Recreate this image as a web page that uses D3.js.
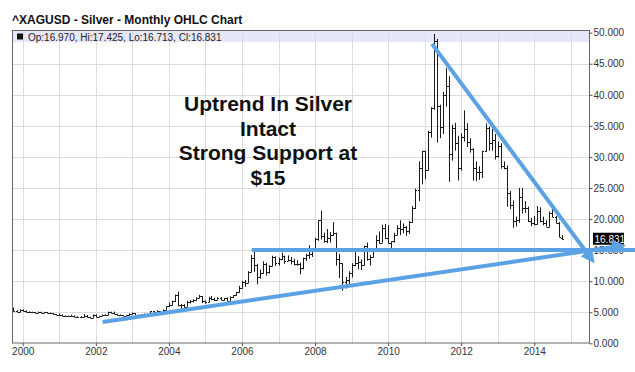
<!DOCTYPE html>
<html><head><meta charset="utf-8">
<script src="https://cdn.jsdelivr.net/npm/d3@7"></script>
<style>html,body{margin:0;padding:0;background:#fff;}svg{display:block;}</style>
</head><body>
<svg id="chart" width="635" height="372"></svg>
<script>
// ---- data (monthly OHLC, Oct 1999 .. Oct 2014) ----
const firstMonth = new Date(1999, 9, 1);
const opens = [
 5.45,5.15,5.10,
 5.35,5.25,5.05,5.00,5.00,4.95,5.05,4.95,5.00,4.90,4.80,4.70,
 4.60,4.60,4.45,4.35,4.40,4.45,4.30,4.20,4.25,4.45,4.20,4.15,
 4.60,4.25,4.40,4.60,4.55,5.00,4.90,4.75,4.60,4.55,4.45,4.50,
 4.70,4.85,4.55,4.45,4.55,4.60,4.55,5.15,5.05,5.15,5.05,5.35,
 5.95,6.20,6.75,7.75,6.15,6.10,5.90,6.60,6.80,6.90,7.30,7.55,
 6.80,6.70,7.35,7.10,6.95,7.35,7.05,7.25,6.85,7.50,7.70,8.25,
 8.85,9.90,9.75,11.50,13.70,12.65,10.70,11.30,12.80,11.50,12.50,13.95,
 12.90,13.55,14.10,13.30,13.40,13.25,12.70,12.80,12.20,13.75,14.20,14.40,
 14.80,16.80,19.80,17.20,16.40,17.00,17.50,17.70,13.50,12.90,9.80,10.20,
 11.30,12.60,13.00,13.10,12.60,15.60,13.60,13.90,14.90,16.70,16.20,18.50,
 16.90,16.20,16.40,17.50,18.60,18.40,18.70,18.00,19.60,21.80,24.70,28.30,
 30.90,27.90,34.00,37.90,48.60,38.20,34.90,40.00,41.50,30.40,34.70,32.20,
 28.20,33.20,34.50,32.40,31.30,28.30,27.50,27.60,30.90,34.70,32.30,32.70,
 30.20,31.70,28.50,28.30,24.20,22.30,19.70,19.80,23.60,21.70,21.80,19.70,
 19.40,19.20,21.30,19.70,19.30,18.80,21.00,20.40,19.40,16.970];
const highs = [
 5.75,5.30,5.45,
 5.45,5.30,5.15,5.10,5.05,5.10,5.10,5.05,5.05,4.95,4.85,4.70,
 4.80,4.65,4.50,4.45,4.60,4.50,4.35,4.35,4.70,4.55,4.25,4.65,
 4.65,4.45,4.65,4.70,5.10,5.10,5.10,4.75,4.65,4.55,4.55,4.80,
 4.95,4.85,4.65,4.70,4.80,4.65,5.20,5.20,5.30,5.15,5.45,5.95,
 6.55,6.85,7.85,8.30,6.35,6.30,6.85,6.95,7.10,7.40,7.80,7.60,
 6.90,7.45,7.60,7.35,7.40,7.45,7.30,7.40,7.55,7.75,8.30,9.25,
 10.05,10.20,11.60,14.20,15.20,12.80,11.85,13.20,12.95,12.60,14.10,14.00,
 13.80,14.60,14.10,14.15,13.90,13.60,13.40,13.00,13.80,14.40,15.80,15.00,
 17.00,19.80,21.35,17.80,18.40,17.90,19.50,17.80,14.40,12.90,10.70,11.60,
 12.90,14.70,14.05,13.50,15.70,16.20,14.20,15.00,17.40,18.00,19.10,19.20,
 19.00,16.40,17.80,19.00,19.80,19.30,18.90,19.70,22.10,24.90,29.30,31.00,
 31.00,34.20,38.00,49.80,49.00,38.40,40.50,44.30,43.00,35.20,35.50,33.40,
 33.80,37.50,35.40,33.00,31.40,29.30,28.50,31.00,35.40,34.90,34.50,33.70,
 32.50,32.20,29.30,28.60,24.50,23.00,20.40,25.00,25.00,22.90,22.00,20.20,
 20.50,22.10,21.90,20.40,19.80,21.20,21.60,20.50,19.50,17.425];
const lows = [
 5.10,5.05,5.05,
 5.10,5.00,4.95,4.95,4.85,4.90,4.90,4.85,4.85,4.75,4.60,4.55,
 4.50,4.40,4.30,4.30,4.35,4.25,4.15,4.15,4.20,4.15,4.05,4.10,
 4.20,4.25,4.40,4.50,4.55,4.85,4.70,4.50,4.45,4.40,4.40,4.50,
 4.65,4.50,4.40,4.40,4.50,4.45,4.50,4.85,4.95,4.85,4.95,5.30,
 5.85,6.10,6.65,5.95,5.50,5.75,5.85,6.40,6.60,6.85,7.25,6.45,
 6.35,6.60,6.95,6.85,6.95,6.95,6.85,6.80,6.80,7.30,7.60,8.10,
 8.80,9.10,9.70,11.40,11.50,9.50,10.40,11.20,10.90,11.20,12.40,12.45,
 12.50,13.40,12.80,13.25,12.70,12.55,12.50,11.10,11.90,13.25,13.60,13.90,
 14.70,16.50,16.70,16.20,16.10,16.20,17.30,12.50,10.50,8.45,8.80,9.50,
 10.60,12.40,11.90,11.80,12.50,13.30,12.50,13.80,14.70,16.10,16.20,16.80,
 16.10,14.70,16.20,17.40,17.40,17.70,17.30,17.60,19.40,21.60,22.90,25.60,
 26.40,27.80,33.10,37.60,32.30,33.00,33.70,38.10,26.00,29.40,31.00,26.20,
 27.80,32.50,31.60,30.70,26.20,26.10,26.30,26.60,30.80,31.00,31.00,29.60,
 29.90,28.10,28.00,22.00,21.60,18.60,18.80,19.40,20.90,21.00,19.50,18.85,
 19.00,19.10,19.50,19.00,18.80,18.70,20.30,19.30,17.10,16.713];
const closes = [
 5.15,5.10,5.35,
 5.25,5.05,5.00,5.00,4.95,5.05,4.95,5.00,4.90,4.80,4.70,4.60,
 4.60,4.45,4.35,4.40,4.45,4.30,4.20,4.25,4.45,4.20,4.15,4.60,
 4.25,4.40,4.60,4.55,5.00,4.90,4.75,4.60,4.55,4.45,4.50,4.70,
 4.85,4.55,4.45,4.55,4.60,4.55,5.15,5.05,5.15,5.05,5.35,5.95,
 6.20,6.75,7.75,6.15,6.10,5.90,6.60,6.80,6.90,7.30,7.55,6.80,
 6.70,7.35,7.10,6.95,7.35,7.05,7.25,6.85,7.50,7.70,8.25,8.85,
 9.90,9.75,11.50,13.70,12.65,10.70,11.30,12.80,11.50,12.50,13.95,12.90,
 13.55,14.10,13.30,13.40,13.25,12.70,12.80,12.20,13.75,14.20,14.40,14.80,
 16.80,19.80,17.20,16.40,17.00,17.50,17.70,13.50,12.90,9.80,10.20,11.30,
 12.60,13.00,13.10,12.60,15.60,13.60,13.90,14.90,16.70,16.20,18.50,16.90,
 16.20,16.40,17.50,18.60,18.40,18.70,18.00,19.60,21.80,24.70,28.30,30.90,
 27.90,34.00,37.90,48.60,38.20,34.90,40.00,41.50,30.40,34.70,32.20,28.20,
 33.20,34.50,32.40,31.30,28.30,27.50,27.60,30.90,34.70,32.30,32.70,30.20,
 31.70,28.50,28.30,24.20,22.30,19.70,19.80,23.60,21.70,21.80,19.70,19.40,
 19.20,21.30,19.70,19.30,18.80,21.00,20.40,19.40,17.10,16.831];

const priceTicks = [0,5,10,15,20,25,30,35,40,45,50];
const yearLabels = [2000,2002,2004,2006,2008,2010,2012,2014];
const gridYears = [2000,2001,2002,2003,2004,2005,2006,2007,2008,2009,2010,2011,2012,2013,2014,2015];
const titleText = "^XAGUSD - Silver - Monthly OHLC Chart";
const legendText = "Op:16.970, Hi:17.425, Lo:16.713, Cl:16.831";
const lastPrice = 16.831;
const noteLines = ["Uptrend In Silver","Intact","Strong Support at","$15"];
// trend lines drawn on the chart: [date, price]
const downTrend = [[new Date(2011,2,15), 48.2],[new Date(2015,6,25), 13.6]];
const supportLine = [[new Date(2006,3,8), 15.0],[new Date(2016,10,1), 15.0]];
const upTrend = [[new Date(2002,2,10), 3.43],[new Date(2016,4,10), 15.66]];

// ---- layout ----
const L = 12, R = 590, T = 30, B = 343.5;
const svg = d3.select("#chart");
const x = d3.scaleTime().domain([new Date(2000,0,1), new Date(2014,0,1)]).range([22.7, 534.3]);
const y = d3.scaleLinear().domain([0,50]).range([343.3, 32.7]);
const months = d3.range(opens.length).map(i => d3.timeMonth.offset(firstMonth, i));
const data = months.map((d,i) => ({date:d, o:opens[i], h:highs[i], l:lows[i], c:closes[i]}));
const font = "'Liberation Sans', Arial, sans-serif";

svg.append("text").attr("x", 12).attr("y", 24).attr("font-family", font)
  .attr("font-weight", "bold").attr("font-size", 12).attr("fill", "#111").text(titleText);

const defs = svg.append("defs");
defs.append("clipPath").attr("id","plotclip").append("rect")
  .attr("x", L).attr("y", T).attr("width", R-L).attr("height", B-T);

// legend band
svg.append("rect").attr("x", L).attr("y", T).attr("width", R-L).attr("height", 12).attr("fill", "#e6e8fa");

// grid
const grid = svg.append("g").attr("stroke", "#dcdcdc").attr("stroke-width", 1);
grid.selectAll("line.v").data(gridYears).join("line")
  .attr("x1", d => Math.round(x(new Date(d,0,1))) + 0.5).attr("x2", d => Math.round(x(new Date(d,0,1))) + 0.5)
  .attr("y1", T).attr("y2", B);
grid.selectAll("line.h").data(priceTicks.filter(v => v > 0 && v < 50)).join("line")
  .attr("x1", L).attr("x2", R).attr("y1", d => Math.round(y(d)) + 0.5).attr("y2", d => Math.round(y(d)) + 0.5);

// legend content
svg.append("rect").attr("x", 17).attr("y", 33.5).attr("width", 6).attr("height", 6).attr("fill", "#111");
svg.append("text").attr("x", 28).attr("y", 40.5).attr("font-family", font).attr("font-size", 10)
  .attr("fill", "#222").text(legendText);

// OHLC bars
const bars = svg.append("g").attr("clip-path", "url(#plotclip)").attr("stroke", "#1a1a1a").attr("stroke-width", 1);
const bx = d => Math.round(x(d.date)) + 0.5;
bars.selectAll("line.hl").data(data).join("line")
  .attr("x1", bx).attr("x2", bx).attr("y1", d => y(d.h)).attr("y2", d => y(d.l));
bars.selectAll("line.o").data(data).join("line")
  .attr("x1", d => bx(d) - 1.5).attr("x2", bx).attr("y1", d => Math.round(y(d.o)) + 0.5).attr("y2", d => Math.round(y(d.o)) + 0.5);
bars.selectAll("line.c").data(data).join("line")
  .attr("x1", bx).attr("x2", d => bx(d) + 1.5).attr("y1", d => Math.round(y(d.c)) + 0.5).attr("y2", d => Math.round(y(d.c)) + 0.5);

// frame
svg.append("rect").attr("x", L + 0.5).attr("y", T + 0.5).attr("width", R - L - 1).attr("height", B - T - 1)
  .attr("fill", "none").attr("stroke", "#666").attr("stroke-width", 1);

// right axis
const ya = d3.axisRight(y).tickValues(priceTicks).tickFormat(d3.format(".3f")).tickSizeInner(3).tickSizeOuter(0).tickPadding(1);
const gy = svg.append("g").attr("transform", `translate(${R - 0.5},0)`).call(ya);
gy.select(".domain").remove();
gy.selectAll(".tick line").attr("stroke", "#555");
gy.selectAll(".tick text").attr("font-family", font).attr("font-size", 10).attr("fill", "#333");

// bottom axis
const xa = d3.axisBottom(x).tickValues(yearLabels.map(v => new Date(v,0,1))).tickFormat(d3.timeFormat("%Y")).tickSizeInner(3).tickSizeOuter(0).tickPadding(2);
const gx = svg.append("g").attr("transform", `translate(0,${B - 0.5})`).call(xa);
gx.select(".domain").remove();
gx.selectAll(".tick line").attr("stroke", "#555");
gx.selectAll(".tick text").attr("font-family", font).attr("font-size", 10).attr("fill", "#333");

// last price tag
const tagY = y(lastPrice);
svg.append("rect").attr("x", 593).attr("y", tagY - 6).attr("width", 31).attr("height", 12).attr("fill", "#000");
svg.append("text").attr("x", 594.5).attr("y", tagY + 4).attr("font-family", font).attr("font-size", 10)
  .attr("fill", "#fff").text(d3.format(".3f")(lastPrice));

// annotation text
const note = svg.append("text").attr("font-family", font).attr("font-weight", "bold").attr("font-size", 21)
  .attr("fill", "#111").attr("text-anchor", "middle");
noteLines.forEach((t, i) => note.append("tspan").attr("x", 268).attr("y", 111 + i * 24.7).text(t));

// trend lines
const blue = "#5aa2e4";
defs.append("marker").attr("id", "arrow").attr("viewBox", "0 0 10 10").attr("refX", 6).attr("refY", 5)
  .attr("markerWidth", 14).attr("markerHeight", 14).attr("markerUnits", "userSpaceOnUse").attr("orient", "auto")
  .append("path").attr("d", "M0,0 L10,5 L0,10 Z").attr("fill", blue);
const line = d3.line().x(d => x(d[0])).y(d => y(d[1]));
const tl = svg.append("g").attr("fill", "none").attr("stroke", blue).attr("stroke-width", 4).attr("stroke-linecap", "butt");
tl.append("path").attr("d", line(supportLine));
tl.append("path").attr("d", line(upTrend)).attr("marker-end", "url(#arrow)");
tl.append("path").attr("d", line(downTrend)).attr("marker-end", "url(#arrow)");
</script>
</body></html>
